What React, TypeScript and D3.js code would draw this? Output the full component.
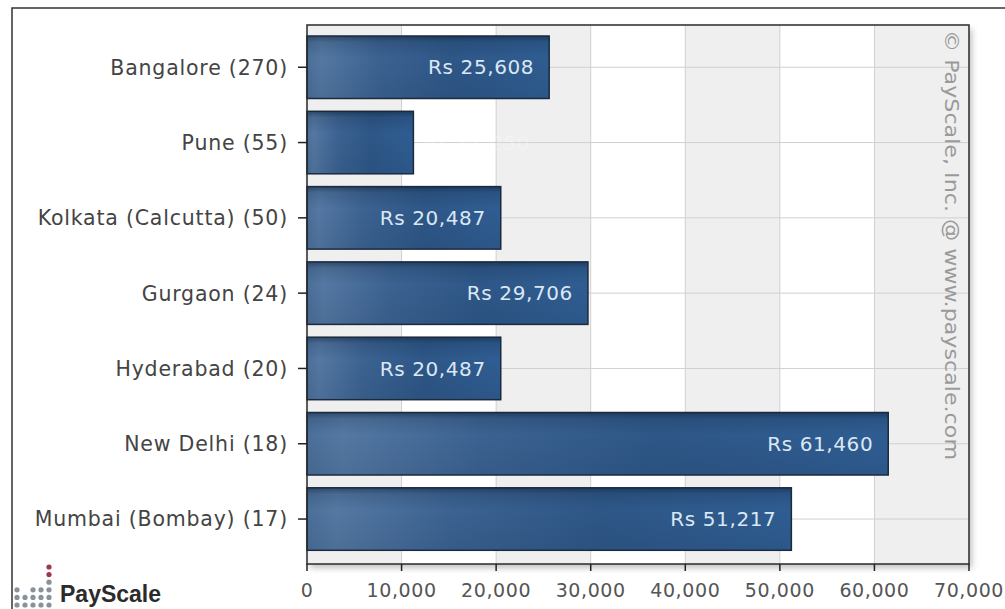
import React from "react";
import * as d3 from "d3";

const categories = [
  "Bangalore (270)",
  "Pune (55)",
  "Kolkata (Calcutta) (50)",
  "Gurgaon (24)",
  "Hyderabad (20)",
  "New Delhi (18)",
  "Mumbai (Bombay) (17)",
];
const salaries = [25608, 11250, 20487, 29706, 20487, 61460, 51217];
const xTicks = [0, 10000, 20000, 30000, 40000, 50000, 60000, 70000];
const watermark = "© PayScale, Inc. @ www.payscale.com";

const W = 1005;
const H = 609;
const plot = { left: 307, right: 969, top: 25, bottom: 564 };

export default function App() {
  const x = d3.scaleLinear().domain([0, 70000]).range([plot.left, plot.right]);
  const y = d3
    .scaleBand<string>()
    .domain(categories)
    .range([29.6, 556.7])
    .paddingInner(0.17)
    .paddingOuter(0.085);
  const fmt = d3.format(",");
  const font = "'DejaVu Sans', Verdana, sans-serif";

  // dot logo pattern: rows counted from bottom
  const logoCols = [17, 25, 33, 41, 49];
  const logoHeights = [3, 2, 3, 3, 6];
  const dots: { cx: number; cy: number; red: boolean }[] = [];
  logoCols.forEach((cx, i) => {
    for (let r = 0; r < logoHeights[i]; r++) {
      dots.push({ cx, cy: 605 - r * 7.6, red: i === 4 && r >= 4 });
    }
  });

  return (
    <svg
      width={W}
      height={H}
      style={{ position: "absolute", left: 0, top: 0, background: "#fff" }}
      fontFamily={font}
    >
      <defs>
        <linearGradient id="barH" x1="0" y1="0" x2="1" y2="0">
          <stop offset="0" stopColor="#4a6f99" />
          <stop offset="0.06" stopColor="#5478a2" />
          <stop offset="0.3" stopColor="#3b6291" />
          <stop offset="0.6" stopColor="#2e5787" />
          <stop offset="1" stopColor="#2f5d92" />
        </linearGradient>
        <linearGradient id="barV" x1="0" y1="0" x2="0" y2="1">
          <stop offset="0" stopColor="#0c1c33" stopOpacity="0.5" />
          <stop offset="0.1" stopColor="#0c1c33" stopOpacity="0.15" />
          <stop offset="0.35" stopColor="#0c1c33" stopOpacity="0" />
          <stop offset="1" stopColor="#0c1c33" stopOpacity="0.1" />
        </linearGradient>
        <filter id="shadow" x="-5%" y="-5%" width="110%" height="110%">
          <feGaussianBlur in="SourceAlpha" stdDeviation="3" />
          <feOffset dx="3" dy="4" result="b" />
          <feComponentTransfer>
            <feFuncA type="linear" slope="0.25" />
          </feComponentTransfer>
          <feMerge>
            <feMergeNode />
            <feMergeNode in="SourceGraphic" />
          </feMerge>
        </filter>
      </defs>

      {/* outer frame */}
      <rect x={12} y={8} width={1010} height={620} fill="none" stroke="#333" strokeWidth={1.5} />

      {/* plot background */}
      <rect
        x={plot.left}
        y={plot.top}
        width={plot.right - plot.left}
        height={plot.bottom - plot.top}
        fill="#fff"
        filter="url(#shadow)"
      />
      {xTicks.slice(0, -1).map((t, i) =>
        i % 2 === 0 ? (
          <rect
            key={"band" + t}
            x={x(t)}
            y={plot.top}
            width={x(xTicks[i + 1]) - x(t)}
            height={plot.bottom - plot.top}
            fill="#efefef"
          />
        ) : null
      )}
      {/* grid lines */}
      {xTicks.slice(1, -1).map((t) => (
        <line key={"gx" + t} x1={x(t)} x2={x(t)} y1={plot.top} y2={plot.bottom} stroke="#d0d0d0" strokeWidth={1} />
      ))}
      {categories.map((c) => (
        <line
          key={"gy" + c}
          x1={plot.left}
          x2={plot.right}
          y1={(y(c) as number) + y.bandwidth() / 2}
          y2={(y(c) as number) + y.bandwidth() / 2}
          stroke="#d0d0d0"
          strokeWidth={1}
        />
      ))}

      {/* watermark */}
      <text
        transform={`translate(945, 30) rotate(90)`}
        fontSize={19}
        fill="#9a9a9a"
        textLength={430}
        lengthAdjust="spacingAndGlyphs"
      >
        {watermark}
      </text>

      {/* bars */}
      {categories.map((c, i) => {
        const y0 = y(c) as number;
        const w = x(salaries[i]) - x(0);
        return (
          <g key={"bar" + c}>
            <rect x={x(0)} y={y0} width={w} height={y.bandwidth()} fill="url(#barH)" />
            <rect
              x={x(0)}
              y={y0}
              width={w}
              height={y.bandwidth()}
              fill="url(#barV)"
              stroke="#1b2a3d"
              strokeWidth={1.5}
            />
          </g>
        );
      })}
      {/* bar labels */}
      {categories.map((c, i) => {
        const y0 = (y(c) as number) + y.bandwidth() / 2;
        const end = x(salaries[i]) - 15;
        const inside = end - x(0) > 120;
        return (
          <text
            key={"lab" + c}
            x={inside ? end : 530}
            y={y0}
            dy="0.36em"
            textAnchor="end"
            fontSize={20}
            letterSpacing={0.6}
            fill={inside ? "#dbe7f4" : "#ffffff"}
            fillOpacity={inside ? 1 : 0.25}
          >
            {"Rs " + fmt(salaries[i])}
          </text>
        );
      })}

      {/* plot border */}
      <rect
        x={plot.left}
        y={plot.top}
        width={plot.right - plot.left}
        height={plot.bottom - plot.top}
        fill="none"
        stroke="#2a2a2a"
        strokeWidth={1.5}
      />

      {/* y axis ticks & labels */}
      {categories.map((c) => {
        const cy = (y(c) as number) + y.bandwidth() / 2;
        return (
          <g key={"yt" + c}>
            <line x1={plot.left - 9} x2={plot.left} y1={cy} y2={cy} stroke="#222" strokeWidth={1.5} />
            <text x={288} y={cy} dy="0.36em" textAnchor="end" fontSize={20.5} letterSpacing={0.8} fill="#444">
              {c}
            </text>
          </g>
        );
      })}

      {/* x axis ticks & labels */}
      {xTicks.map((t) => (
        <g key={"xt" + t}>
          <line x1={x(t)} x2={x(t)} y1={plot.bottom} y2={plot.bottom + 7} stroke="#222" strokeWidth={1.5} />
          <text x={x(t)} y={590} dy="0.36em" textAnchor="middle" fontSize={19} letterSpacing={0.6} fill="#555">
            {fmt(t)}
          </text>
        </g>
      ))}

      {/* PayScale logo */}
      {dots.map((d, i) => (
        <circle key={"dot" + i} cx={d.cx} cy={d.cy} r={2.6} fill={d.red ? "#a0364d" : "#8a9299"} />
      ))}
      <text
        x={60}
        y={602}
        fontFamily="'Liberation Sans', Arial, sans-serif"
        fontWeight="bold"
        fontSize={23}
        fill="#2b2b2b"
      >
        PayScale
      </text>
    </svg>
  );
}
